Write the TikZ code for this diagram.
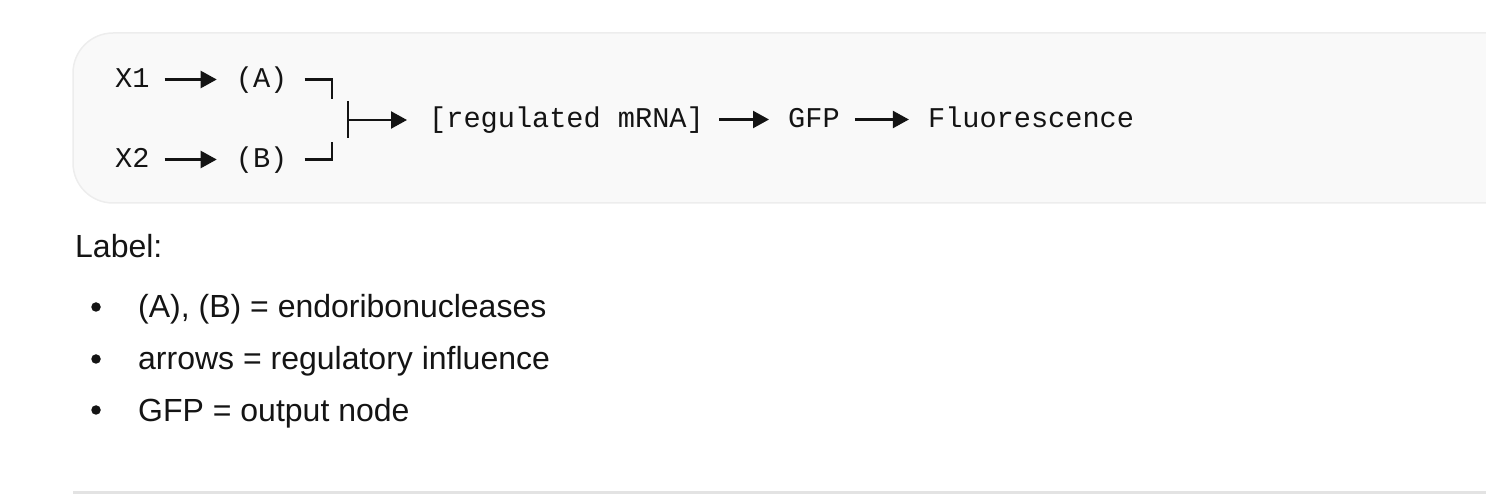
\documentclass[tikz,border=0pt]{standalone}
\usepackage{fontspec}
\setmainfont{Liberation Sans}
\newfontfamily\codefont{Liberation Mono}
\usepackage{xcolor}
\usetikzlibrary{arrows.meta, positioning}

\definecolor{codebg}{HTML}{F9F9F9}
\definecolor{codeedge}{HTML}{EDEDED}
\definecolor{rulegray}{HTML}{E3E3E3}
\definecolor{ink}{HTML}{141414}

\begin{document}
\begin{tikzpicture}[
    x=1pt, y=-1pt,
    code/.style={font=\codefont\fontsize{28.6}{34}\selectfont, text=ink, inner sep=0pt, text height=17pt, text depth=0pt, anchor=base west},
    body/.style={font=\fontsize{32}{38}\selectfont, text=ink, inner sep=0pt, anchor=base west},
    dot/.style={circle, fill=ink, inner sep=0pt, minimum size=9.5pt},
    flow/.style={-{Triangle[length=16pt, width=17pt]}, line width=2.3pt, draw=ink, shorten <=15pt, shorten >=19pt},
    wire/.style={line width=2.3pt, draw=ink}
]
\useasboundingbox (0,0) rectangle (1486,502);
\clip (0,0) rectangle (1486,502);

% code block
\draw[fill=codebg, draw=codeedge, line width=1.5pt, rounded corners=40pt]
    (1530,33) -- (73,33) -- (73,203) -- (1530,203);

% Nodes
\node[code] (x1) at (115,88) {X1};
\node[code, right=86pt of x1] (pa) {(A)};
\node[code] (x2) at (115,168) {X2};
\node[code, right=86pt of x2] (pb) {(B)};
\node[code] (mrna) at (429,128) {[regulated mRNA]};
\node[code, right=84pt of mrna] (gfp) {GFP};
\node[code, right=88pt of gfp] (fluor) {Fluorescence};

\coordinate (jtop) at (332,99);
\coordinate (jbot) at (332,142);
\coordinate (tee) at (348,120);

% Arrows
\draw[flow] (x1) -- (pa);
\draw[flow] (x2) -- (pb);
\draw[wire] ([xshift=17pt]pa.east) -| (jtop);
\draw[wire] ([xshift=17pt]pb.east) -| (jbot);
\draw[wire] ([yshift=19pt]tee) -- ([yshift=-18pt]tee);
\draw[flow, shorten <=0pt, shorten >=22pt] (tee) -- (tee -| mrna.west);
\draw[flow] (mrna) -- (gfp);
\draw[flow] (gfp) -- (fluor);

% Legend
\node[body] (lbl) at (75,258) {Label:};
\node[dot] (d1) at (96,307) {};
\node[body] (b1) at (138,318) {(A), (B) = endoribonucleases};
\node[dot] (d2) at (96,359) {};
\node[body] (b2) at (138,370) {arrows = regulatory influence};
\node[dot] (d3) at (96,410) {};
\node[body] (b3) at (138,421) {GFP = output node};

\draw[rulegray, line width=2.5pt] (73,492.5) -- (1486,492.5);

\end{tikzpicture}
\end{document}
